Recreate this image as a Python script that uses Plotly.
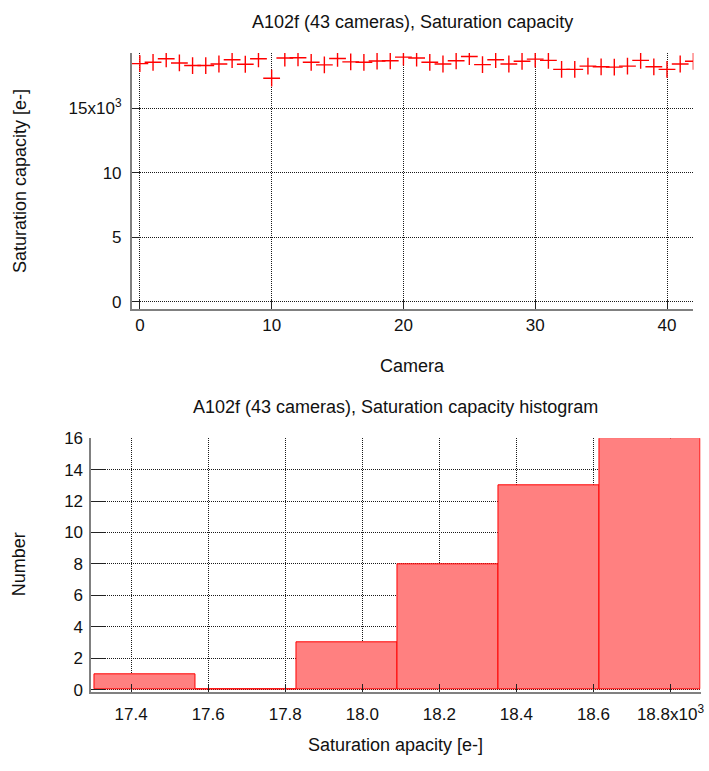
import plotly.graph_objects as go

# Saturation capacity per camera (electrons)
cameras = list(range(43))
saturation = [
    18450, 18550, 18820, 18500, 18300, 18300, 18420, 18750, 18400, 18820,
    17320, 18880, 18900, 18550, 18350, 18850, 18580, 18550, 18650, 18670,
    18950, 18880, 18550, 18420, 18670, 19000, 18370, 18750, 18420, 18630,
    18800, 18700, 18000, 18000, 18250, 18200, 18180, 18250, 18700, 18200,
    18000, 18420, 18630,
]

# Histogram of saturation capacity
bin_start = 17304.0
bin_width = 262.3
bin_counts = [1, 0, 3, 8, 13, 16]
bin_centers = [bin_start + bin_width * (i + 0.5) for i in range(len(bin_counts))]

top_yticks = [0, 5000, 10000, 15000]
top_yticklabels = ["0", "5", "10", "15x10<sup>3</sup>"]
top_xticks = [0, 10, 20, 30, 40]
hist_xticks = [17400, 17600, 17800, 18000, 18200, 18400, 18600, 18800]
hist_xticklabels = ["17.4", "17.6", "17.8", "18.0", "18.2", "18.4", "18.6",
                    "18.8x10<sup>3</sup>"]
hist_yticks = [0, 2, 4, 6, 8, 10, 12, 14, 16]

W, H = 709, 771
FONT = "Liberation Sans, Arial, sans-serif"


def px_x(p):
    return p / W


def px_y(p):
    return 1 - p / H


fig = go.Figure()

fig.add_trace(go.Scatter(
    x=cameras, y=saturation, mode="markers",
    marker=dict(symbol="cross-thin", size=12, color="rgba(0,0,0,0)",
                line=dict(color="#ff0000", width=1.4)),
    xaxis="x", yaxis="y", showlegend=False,
))

fig.add_trace(go.Bar(
    x=bin_centers, y=bin_counts, width=[bin_width] * len(bin_counts),
    marker=dict(color="#ff8080", line=dict(color="#ff0000", width=1)),
    xaxis="x2", yaxis="y2", showlegend=False,
))

grid = dict(showgrid=True, gridcolor="#1a1a1a", griddash="1px,1px", gridwidth=1,
            zeroline=False, showline=True, linecolor="#808080", linewidth=2,
            ticks="inside", tickcolor="#222222", tickwidth=1,
            tickfont=dict(family=FONT, size=17, color="#111111"))

fig.update_layout(
    width=W, height=H,
    margin=dict(l=0, r=0, t=0, b=0),
    paper_bgcolor="white", plot_bgcolor="white",
    font=dict(family=FONT, color="#111111"),
    xaxis=dict(domain=[px_x(132.7), px_x(697.3)], anchor="y",
               range=[-0.6, 42.0], tickvals=top_xticks, ticklen=9, **grid),
    yaxis=dict(domain=[px_y(306.7), px_y(45)], anchor="x",
               range=[-560, 19270], tickvals=top_yticks,
               ticktext=top_yticklabels, ticklen=8, ticklabelstandoff=5,
               **grid),
    xaxis2=dict(domain=[px_x(92), px_x(704.5)], anchor="y2",
                range=[17297, 18878], tickvals=hist_xticks,
                ticktext=hist_xticklabels, ticklen=8, ticklabelstandoff=6,
                **grid),
    yaxis2=dict(domain=[px_y(698.3), px_y(439)], anchor="x2",
                range=[-0.15, 16], tickvals=hist_yticks, ticklen=14,
                ticklabelstandoff=3, **grid),
    bargap=0,
)

texts = [
    ("A102f (43 cameras), Saturation capacity", 415, 13, 0),
    ("Camera", 415, 365, 0),
    ("Saturation capacity [e-]", 20, 176, -90),
    ("A102f (43 cameras), Saturation capacity histogram", 398, 407, 0),
    ("Saturation apacity [e-]", 398, 753, 0),
    ("Number", 20, 568, -90),
]
for t, x, y, ang in texts:
    fig.add_annotation(text=t, x=px_x(x), y=px_y(y), xref="paper", yref="paper",
                       showarrow=False, textangle=ang,
                       font=dict(family=FONT, size=18, color="#111111"),
                       xanchor="center", yanchor="middle")

fig.write_html("out.html")
